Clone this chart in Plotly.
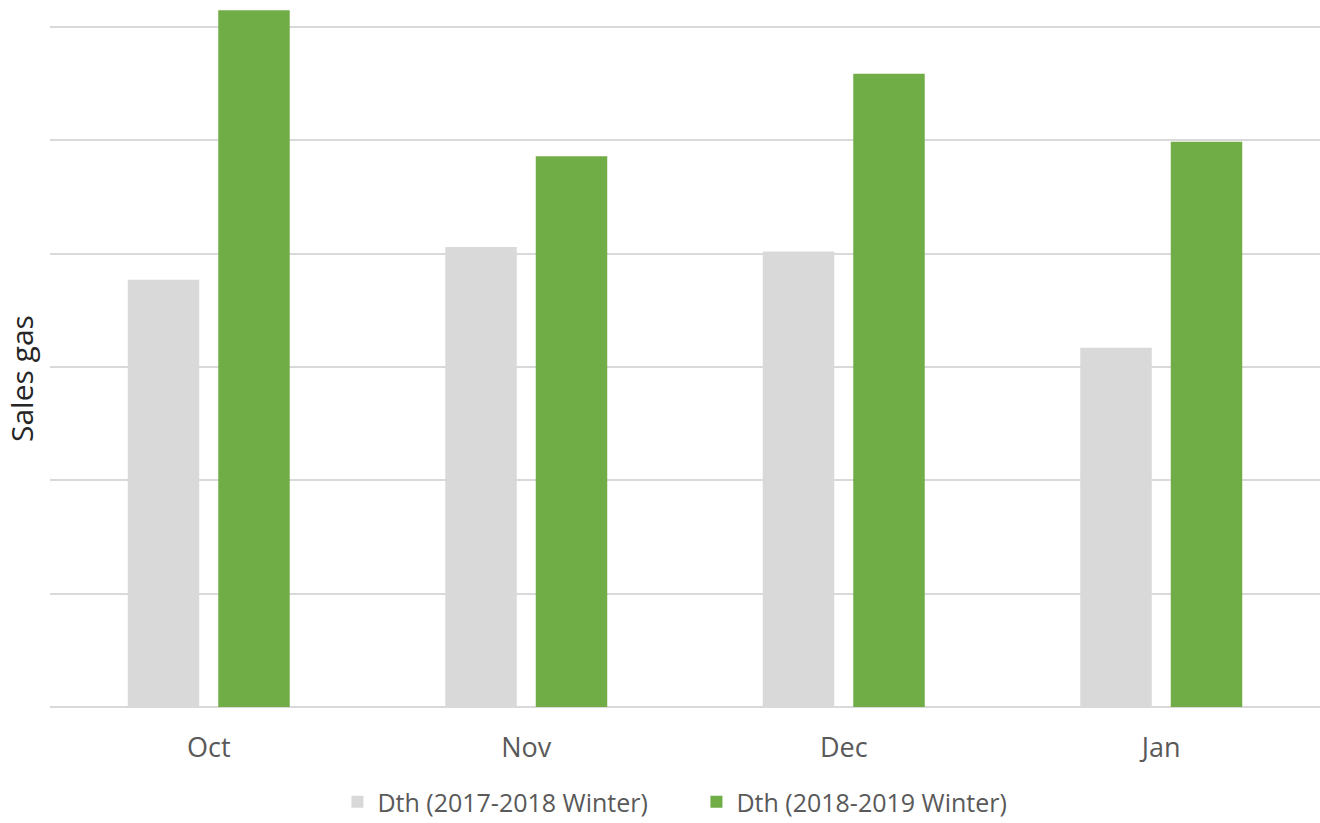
import plotly.graph_objects as go

months = ["Oct", "Nov", "Dec", "Jan"]
winter_2017_2018 = [3.77, 4.06, 4.02, 3.17]
winter_2018_2019 = [6.15, 4.86, 5.59, 4.99]
series_names = ["Dth (2017-2018 Winter)", "Dth (2018-2019 Winter)"]

fig = go.Figure()
fig.add_trace(go.Bar(x=months, y=winter_2017_2018, name=series_names[0],
                     marker=dict(color="#d9d9d9", line=dict(width=0))))
fig.add_trace(go.Bar(x=months, y=winter_2018_2019, name=series_names[1],
                     marker=dict(color="#70ad47", line=dict(width=0))))

fig.update_layout(
    width=1320, height=823,
    margin=dict(l=50, r=0, t=0, b=116, autoexpand=False),
    plot_bgcolor="white", paper_bgcolor="white",
    barmode="group", bargap=0.43, bargroupgap=0.21,
    font=dict(family="Open Sans", color="#595959", size=26),
    showlegend=True,
    legend=dict(orientation="h", x=0.509, xanchor="center", y=-0.102, yanchor="top",
                font=dict(size=25, color="#595959"), traceorder="normal",
                itemwidth=30, entrywidth=314, entrywidthmode="pixels"),
    xaxis=dict(showgrid=False, showline=False, ticks="", ticklabelstandoff=22,
               automargin=False, tickfont=dict(size=27, color="#595959")),
    yaxis=dict(range=[0, 6.24], dtick=1, showticklabels=False, showgrid=True,
               gridcolor="#d9d9d9", gridwidth=2, zeroline=True, zerolinecolor="#d9d9d9",
               zerolinewidth=2, ticks="", automargin=False),
    annotations=[dict(text="Sales gas", textangle=-90, xref="paper", yref="paper",
                      x=-0.022, y=0.464, xanchor="center", yanchor="middle",
                      showarrow=False, font=dict(size=30, color="#262626"))],
)

fig.write_html("out.html")
